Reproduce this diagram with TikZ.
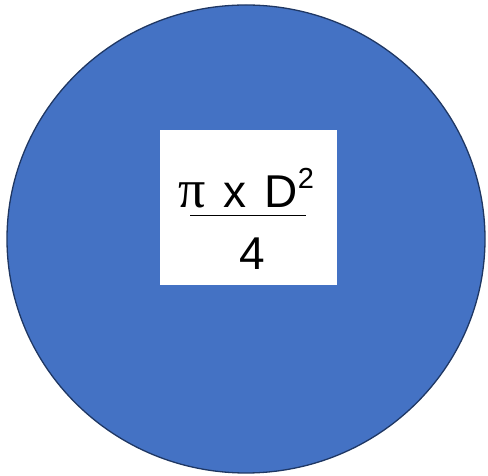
\documentclass[tikz,border=0pt]{standalone}
\usepackage{fontspec}
\setmainfont{Liberation Sans}
\newfontfamily\pifont{Liberation Serif}
\definecolor{discblue}{HTML}{4472C4}
\definecolor{discrim}{HTML}{1F3763}
\tikzset{
    disc/.style={ellipse, fill=discblue, draw=discrim, line width=1.3pt, inner sep=0pt},
    formulabox/.style={rectangle, fill=white, inner sep=0pt},
    formulatext/.style={inner sep=0pt, anchor=base, font=\fontsize{46}{46}\selectfont}
}
\usetikzlibrary{shapes.geometric}
\begin{document}
\begin{tikzpicture}[x=1pt, y=1pt]
    \useasboundingbox (0,0) rectangle (488,476);

    % Blue disc with the area formula in a white box
    \node[disc, minimum width=478pt, minimum height=468pt] (disc) at (246,237) {};
    \node[formulabox, minimum width=177pt, minimum height=155pt] (box) at (248.5,268.5) {};

    % Numerator, fraction bar and denominator
    \node[formulatext] (num) at (246.5,268) {{\pifont\fontsize{54}{54}\selectfont π}\hspace{5pt} x\hspace{5pt} D\raisebox{0.42em}{\fontsize{29}{29}\selectfont 2}};
    \coordinate (barL) at (190,260);
    \coordinate (barR) at (306,260);
    \draw[line width=1pt] (barL) -- (barR);
    \node[formulatext] (den) at (252.5,206) {4};
\end{tikzpicture}
\end{document}
